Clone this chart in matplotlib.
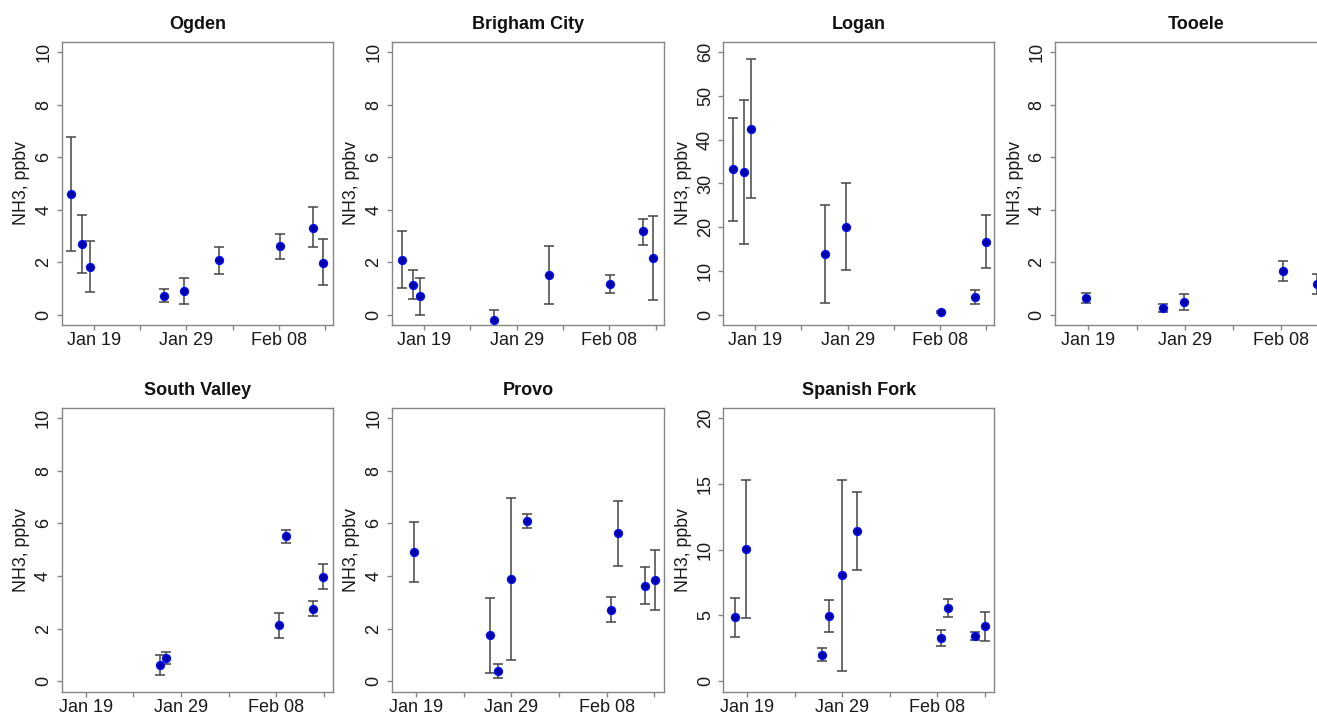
import matplotlib
matplotlib.use("Agg")
import matplotlib.pyplot as plt
import matplotlib.dates as mdates
import pandas as pd

plt.rcParams['font.family'] = ['Liberation Sans', 'DejaVu Sans']

# ---------------- data ----------------
sites = ["Ogden", "Brigham City", "Logan", "Tooele",
         "South Valley", "Provo", "Spanish Fork"]

ogden_t = ["2017-01-16 14:00", "2017-01-17 18:00", "2017-01-18 14:00", "2017-01-26 14:00",
           "2017-01-28 18:00", "2017-02-01 12:00", "2017-02-08 02:00", "2017-02-11 16:00",
           "2017-02-12 17:00"]
ogden_v = [4.59, 2.70, 1.81, 0.71, 0.89, 2.07, 2.61, 3.32, 1.98]
ogden_lo = [2.44, 1.60, 0.85, 0.47, 0.41, 1.56, 2.12, 2.56, 1.12]
ogden_hi = [6.77, 3.80, 2.79, 0.98, 1.39, 2.57, 3.09, 4.10, 2.89]

brigham_t = ["2017-01-16 16:00", "2017-01-17 20:00", "2017-01-18 14:00", "2017-01-26 14:00",
             "2017-02-01 11:00", "2017-02-08 02:00", "2017-02-11 14:00", "2017-02-12 17:00"]
brigham_v = [2.10, 1.15, 0.70, -0.20, 1.51, 1.17, 3.17, 2.16]
brigham_lo = [1.03, 0.59, 0.00, -0.60, 0.39, 0.84, 2.67, 0.55]
brigham_hi = [3.19, 1.72, 1.41, 0.18, 2.63, 1.51, 3.66, 3.77]

logan_t = ["2017-01-16 14:00", "2017-01-17 18:00", "2017-01-18 14:00", "2017-01-26 14:00",
           "2017-01-28 19:00", "2017-02-08 02:00", "2017-02-11 19:00", "2017-02-12 22:00"]
logan_v = [33.2, 32.6, 42.5, 13.8, 20.0, 0.6, 4.0, 16.6]
logan_lo = [21.5, 16.2, 26.6, 2.7, 10.2, 0.3, 2.4, 10.7]
logan_hi = [45.0, 49.1, 58.5, 25.0, 30.0, 0.9, 5.6, 22.7]

tooele_t = ["2017-01-18 17:00", "2017-01-26 18:00", "2017-01-28 22:00", "2017-02-08 05:00",
            "2017-02-11 17:00"]
tooele_v = [0.64, 0.25, 0.50, 1.67, 1.17]
tooele_lo = [0.43, 0.09, 0.19, 1.27, 0.78]
tooele_hi = [0.84, 0.42, 0.80, 2.05, 1.56]

svalley_t = ["2017-01-26 18:00", "2017-01-27 11:00", "2017-02-08 08:00", "2017-02-09 01:00",
             "2017-02-11 22:00", "2017-02-12 23:00"]
svalley_v = [0.60, 0.90, 2.12, 5.51, 2.75, 3.96]
svalley_lo = [0.23, 0.67, 1.64, 5.24, 2.47, 3.49]
svalley_hi = [0.99, 1.12, 2.61, 5.76, 3.04, 4.45]

provo_t = ["2017-01-18 20:00", "2017-01-26 19:00", "2017-01-27 14:00", "2017-01-29 00:00",
           "2017-01-30 16:00", "2017-02-08 10:00", "2017-02-09 05:00", "2017-02-12 00:00",
           "2017-02-13 02:00"]
provo_v = [4.90, 1.74, 0.39, 3.88, 6.08, 2.72, 5.62, 3.63, 3.83]
provo_lo = [3.77, 0.31, 0.11, 0.81, 5.81, 2.25, 4.39, 2.95, 2.70]
provo_hi = [6.06, 3.18, 0.67, 6.96, 6.35, 3.21, 6.87, 4.33, 4.97]

spanish_t = ["2017-01-17 16:00", "2017-01-18 20:00", "2017-01-26 20:00", "2017-01-27 14:00",
             "2017-01-28 23:00", "2017-01-30 14:00", "2017-02-08 10:00", "2017-02-09 04:00",
             "2017-02-11 23:00", "2017-02-13 02:00"]
spanish_v = [4.86, 10.03, 2.01, 4.94, 8.04, 11.43, 3.28, 5.60, 3.46, 4.20]
spanish_lo = [3.38, 4.81, 1.50, 3.72, 0.79, 8.47, 2.65, 4.89, 3.13, 3.08]
spanish_hi = [6.34, 15.32, 2.54, 6.21, 15.32, 14.40, 3.89, 6.28, 3.77, 5.27]

y_max = [10, 10, 60, 10, 10, 10, 20]
y_step = [2, 2, 10, 2, 2, 2, 5]

x_ticks = ["2017-01-19", "2017-01-24", "2017-01-29", "2017-02-03", "2017-02-08", "2017-02-13"]
x_ticklabels = ["Jan 19", "", "Jan 29", "", "Feb 08", ""]
xlim_row1 = ["2017-01-15 13:00", "2017-02-13 20:30"]
xlim_row2 = ["2017-01-16 11:00", "2017-02-14 00:00"]

series = [
    (ogden_t, ogden_v, ogden_lo, ogden_hi),
    (brigham_t, brigham_v, brigham_lo, brigham_hi),
    (logan_t, logan_v, logan_lo, logan_hi),
    (tooele_t, tooele_v, tooele_lo, tooele_hi),
    (svalley_t, svalley_v, svalley_lo, svalley_hi),
    (provo_t, provo_v, provo_lo, provo_hi),
    (spanish_t, spanish_v, spanish_lo, spanish_hi),
]

# ---------------- layout (pixels) ----------------
W, H = 1317, 714
fig = plt.figure(figsize=(W / 100, H / 100), dpi=100)
fig.patch.set_facecolor("white")

# left, top, width, height in pixels
boxes = [
    (61.7, 41.7, 271.5, 283.5),
    (391.7, 41.7, 272.0, 283.5),
    (723.3, 41.7, 271.0, 283.5),
    (1055.0, 41.7, 283.0, 283.5),
    (61.5, 407.7, 271.8, 284.0),
    (391.7, 407.7, 272.3, 284.0),
    (723.3, 407.7, 270.7, 284.0),
]

frame_col = "#858585"
bar_col = "#454545"

for i, (name, (t, v, lo, hi)) in enumerate(zip(sites, series)):
    l, tp, w, h = boxes[i]
    ax = fig.add_axes([l / W, 1 - (tp + h) / H, w / W, h / H])
    x = pd.to_datetime(t)
    v = pd.Series(v)
    lo = pd.Series(lo)
    hi = pd.Series(hi)
    ax.errorbar(x, v, yerr=[v - lo, hi - v], fmt="none", ecolor=bar_col,
                elinewidth=1.1, capsize=3.3, capthick=1.1, zorder=2)
    ax.plot(x, v, "o", ms=5.8, mfc="#0000a8", mec="#0010ff", mew=0.9, zorder=3)

    ym = y_max[i]
    pad = 0.04 * ym
    ax.set_ylim(-pad, ym + pad)
    ax.set_yticks(range(0, ym + 1, y_step[i]))
    xl = xlim_row1 if i < 4 else xlim_row2
    ax.set_xlim(pd.to_datetime(xl[0]), pd.to_datetime(xl[1]))
    ax.set_xticks(pd.to_datetime(x_ticks))
    ax.set_xticklabels(x_ticklabels)

    for sp in ax.spines.values():
        sp.set_color(frame_col)
        sp.set_linewidth(1.0)
    ax.tick_params(axis="both", direction="out", length=3.8, width=1.0,
                   color=frame_col, labelsize=13, labelcolor="#1a1a1a")
    ax.tick_params(axis="x", pad=1.2)
    ax.tick_params(axis="y", pad=3.0)
    for lab in ax.get_yticklabels():
        lab.set_rotation(90)
        lab.set_va("center")
        lab.set_ha("right")
        lab.set_rotation_mode("default")

    ax.set_title(name, fontsize=13, fontweight="bold", pad=9, color="#111111")
    fig.text((l - 40) / W, 1 - (tp + h / 2) / H, "NH3, ppbv", rotation=90,
             ha="center", va="center", fontsize=12.8, color="#1a1a1a")

fig.savefig("out.png", dpi=100, facecolor="white")
